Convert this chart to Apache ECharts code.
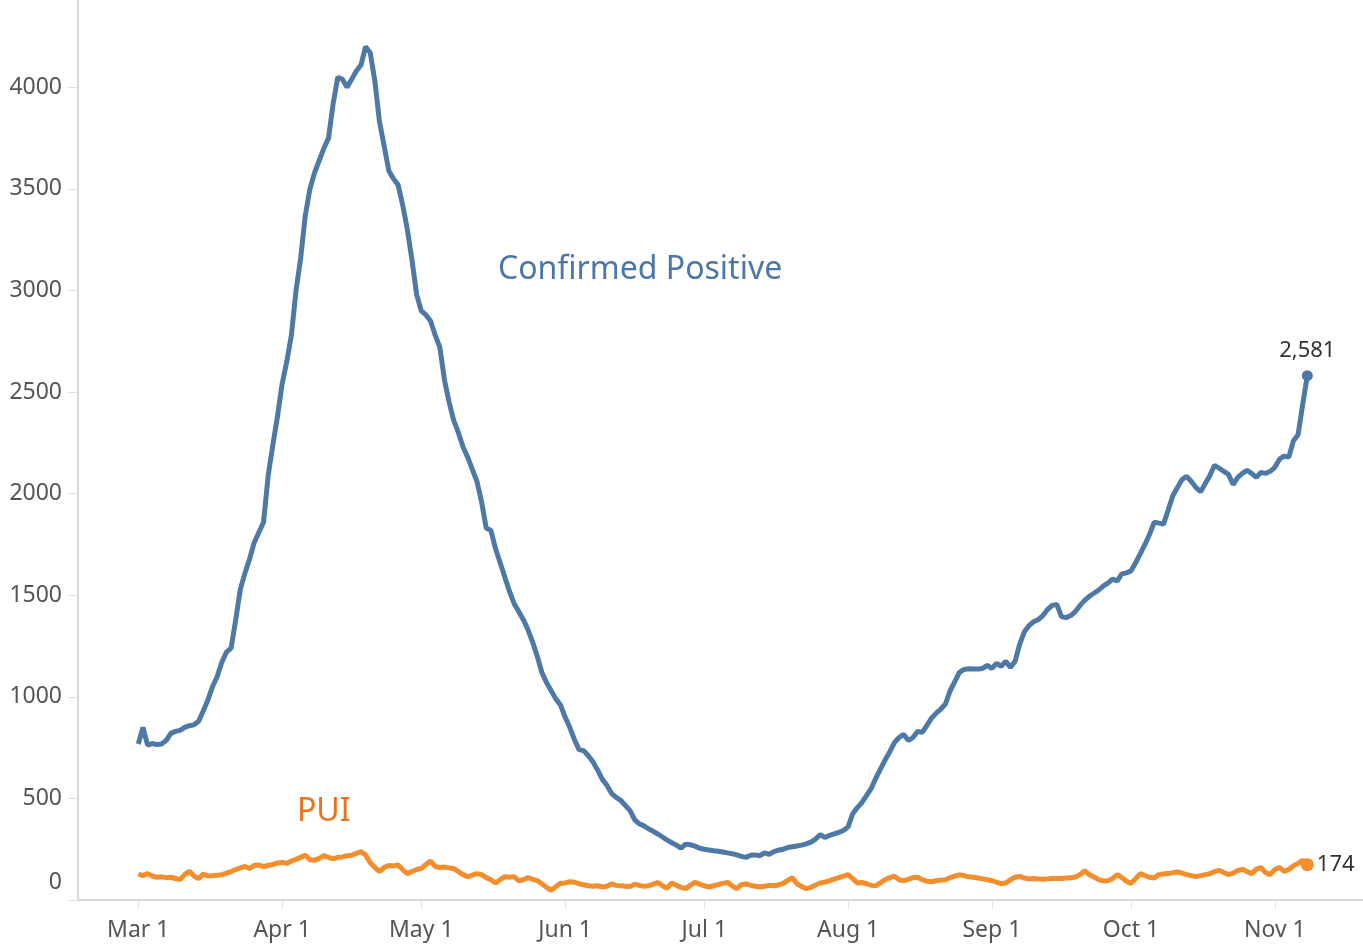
<!DOCTYPE html>
<html>
<head>
<meta charset="utf-8">
<script src="https://cdn.jsdelivr.net/npm/echarts@6/dist/echarts.min.js"></script>
<style>
  html, body { margin: 0; padding: 0; background: #fff; }
  #chart { width: 1363px; height: 947px; }
</style>
</head>
<body>
<div id="chart"></div>
<script>
// axis runs Feb 17 - Nov 20 2020, data runs Mar 1 - Nov 8
const axisStart = '2020-02-17'
const axisDays = 278
const dataStart = '2020-03-01'
const monthNames = ['Jan', 'Feb', 'Mar', 'Apr', 'May', 'Jun', 'Jul', 'Aug', 'Sep', 'Oct', 'Nov', 'Dec']

// Confirmed Positive, daily from Mar 1
const confirmed = [
  768, 850, 762, 770, 765, 768, 785, 820, 830, 835,
  850, 858, 862, 880, 930, 985, 1050, 1100, 1170, 1220,
  1240, 1380, 1530, 1610, 1680, 1760, 1810, 1860, 2090, 2240,
  2380, 2540, 2650, 2780, 3000, 3160, 3370, 3500, 3580, 3640,
  3700, 3750, 3920, 4050, 4040, 4000, 4040, 4080, 4110, 4200,
  4170, 4030, 3830, 3710, 3590, 3550, 3520, 3420, 3300, 3150,
  2980, 2900, 2880, 2850, 2780, 2720, 2560, 2450, 2360, 2300,
  2230, 2180, 2120, 2060, 1960, 1830, 1820, 1730, 1660, 1590,
  1520, 1460, 1420, 1380, 1330, 1270, 1200, 1120, 1070, 1030,
  990, 960, 900, 850, 790, 740, 735, 710, 680, 640,
  595, 565, 525, 505, 490, 465, 440, 395, 375, 365,
  350, 338, 325, 310, 295, 282, 270, 255, 275, 272,
  265, 255, 250, 246, 242, 240, 236, 232, 228, 222,
  215, 210, 220, 222, 218, 232, 225, 238, 245, 250,
  258, 262, 266, 270, 276, 285, 300, 322, 308, 318,
  325, 333, 342, 360, 425, 455, 480, 515, 550, 600,
  645, 690, 730, 775, 800, 815, 785, 800, 830, 825,
  860, 895, 920, 940, 965, 1030, 1075, 1120, 1135, 1138,
  1137, 1137, 1140, 1155, 1140, 1165, 1150, 1175, 1145, 1175,
  1260, 1320, 1350, 1370, 1380, 1400, 1430, 1450, 1455, 1395,
  1390, 1400, 1420, 1450, 1475, 1495, 1510, 1525, 1545, 1560,
  1580, 1570, 1605, 1610, 1620, 1660, 1705, 1750, 1800, 1860,
  1855, 1850, 1920, 1990, 2030, 2070, 2085, 2060, 2030, 2010,
  2050, 2090, 2140, 2125, 2110, 2095, 2045, 2080, 2100, 2115,
  2100, 2080, 2105, 2100, 2110, 2130, 2170, 2185, 2180, 2260,
  2290, 2440, 2581
]

// PUI, daily from Mar 1
const pui = [
  128, 120, 130, 118, 112, 114, 110, 112, 106, 100,
  125, 142, 118, 105, 128, 118, 120, 122, 125, 132,
  140, 150, 158, 165, 155, 170, 172, 165, 170, 175,
  182, 185, 180, 192, 200, 210, 220, 198, 195, 205,
  218, 210, 202, 210, 212, 218, 220, 230, 238, 222,
  183, 160, 140, 160, 170, 168, 172, 150, 130, 140,
  150, 155, 175, 192, 165, 160, 162, 158, 155, 140,
  125, 115, 122, 130, 125, 110, 100, 84, 100, 115,
  112, 115, 95, 100, 110, 102, 95, 80, 62, 48,
  65, 82, 84, 90, 88, 80, 75, 70, 68, 70,
  64, 68, 79, 72, 70, 68, 66, 78, 72, 67,
  70, 78, 86, 70, 58, 84, 72, 62, 56, 72,
  87, 78, 70, 64, 70, 76, 82, 87, 70, 56,
  75, 79, 72, 68, 64, 68, 72, 70, 74, 82,
  96, 110, 80, 66, 56, 62, 74, 84, 88, 95,
  103, 110, 118, 125, 105, 84, 86, 80, 72, 70,
  85, 100, 110, 117, 100, 95, 102, 110, 112, 100,
  92, 90, 95, 98, 100, 110, 118, 124, 120, 114,
  112, 108, 104, 100, 95, 88, 80, 84, 100, 112,
  116, 108, 104, 106, 104, 102, 104, 106, 106, 106,
  108, 110, 113, 125, 144, 125, 113, 100, 94, 95,
  105, 125, 110, 92, 82, 105, 130, 120, 112, 108,
  125, 128, 130, 134, 138, 132, 125, 120, 116, 120,
  125, 130, 140, 146, 135, 125, 132, 145, 151, 140,
  130, 152, 160, 135, 125, 150, 160, 141, 150, 168,
  180, 195, 174
]

const dayMs = 86400000
const fmt = (t) => new Date(t).toISOString().slice(0, 10)
const dates = []
for (let i = 0; i < axisDays; i++) {
  dates.push(fmt(Date.parse(axisStart) + i * dayMs))
}
const offset = dates.indexOf(dataStart)

const toSeries = (vals) => vals.map((v, i) => [dates[offset + i], v])
const lastPoint = (vals) => [dates[offset + vals.length - 1], vals[vals.length - 1]]

const isMonthStart = (idx, val) => val.slice(8, 10) === '01'
const labelFont = 'Noto Sans'

const endMark = (vals, color, size, pos) => ({
  symbol: 'circle',
  symbolSize: size,
  itemStyle: { color: color },
  label: {
    show: true,
    position: pos,
    distance: pos === 'top' ? 8 : 3,
    color: '#333',
    fontSize: 22,
    fontFamily: labelFont,
    formatter: (p) => p.value.toLocaleString('en-US')
  },
  data: [{ coord: lastPoint(vals), value: vals[vals.length - 1] }]
})

const chart = echarts.init(document.getElementById('chart'))
chart.setOption({
  animation: false,
  grid: { left: 78, right: 0, top: 0, bottom: 47 },
  xAxis: {
    type: 'category',
    data: dates,
    boundaryGap: false,
    axisLine: { lineStyle: { color: '#d9d9d9', width: 2 } },
    axisTick: { interval: isMonthStart, length: 9, lineStyle: { color: '#e0e0e0', width: 1 } },
    axisLabel: {
      interval: isMonthStart,
      margin: 19,
      color: '#555',
      fontSize: 23,
      fontFamily: labelFont,
      formatter: (v) => monthNames[+v.slice(5, 7) - 1] + ' ' + (+v.slice(8, 10))
    },
    splitLine: { show: false }
  },
  yAxis: {
    type: 'value',
    min: 0,
    max: 4430,
    interval: 500,
    axisLine: { show: true, lineStyle: { color: '#d9d9d9', width: 2 } },
    axisTick: { show: true, length: 10, lineStyle: { color: '#e0e0e0' } },
    splitLine: { show: false },
    axisLabel: {
      margin: 16,
      color: '#555',
      fontSize: 23,
      fontFamily: labelFont,
      showMaxLabel: false,
      formatter: (v) => v === 0 ? '{z|0}' : String(v),
      rich: { z: { color: '#555', fontSize: 23, fontFamily: labelFont, padding: [0, 0, 36, 0] } }
    }
  },
  series: [
    {
      name: 'Confirmed Positive',
      type: 'line',
      symbol: 'none',
      lineStyle: { color: '#4e79a7', width: 5 },
      itemStyle: { color: '#4e79a7' },
      data: toSeries(confirmed),
      markPoint: endMark(confirmed, '#4e79a7', 11, 'top'),
      z: 3
    },
    {
      name: 'PUI',
      type: 'line',
      symbol: 'none',
      lineStyle: { color: '#f28e2b', width: 5 },
      itemStyle: { color: '#f28e2b' },
      data: toSeries(pui),
      markPoint: endMark(pui, '#f28e2b', 13, 'right'),
      z: 2
    }
  ],
  graphic: [
    {
      type: 'text',
      left: 498,
      top: 254,
      style: { text: 'Confirmed Positive', fill: '#4a76a8', font: '32px "Noto Sans"' }
    },
    {
      type: 'text',
      left: 297,
      top: 796,
      style: { text: 'PUI', fill: '#e8731a', font: '32px "Noto Sans"' }
    }
  ]
})
</script>
</body>
</html>
